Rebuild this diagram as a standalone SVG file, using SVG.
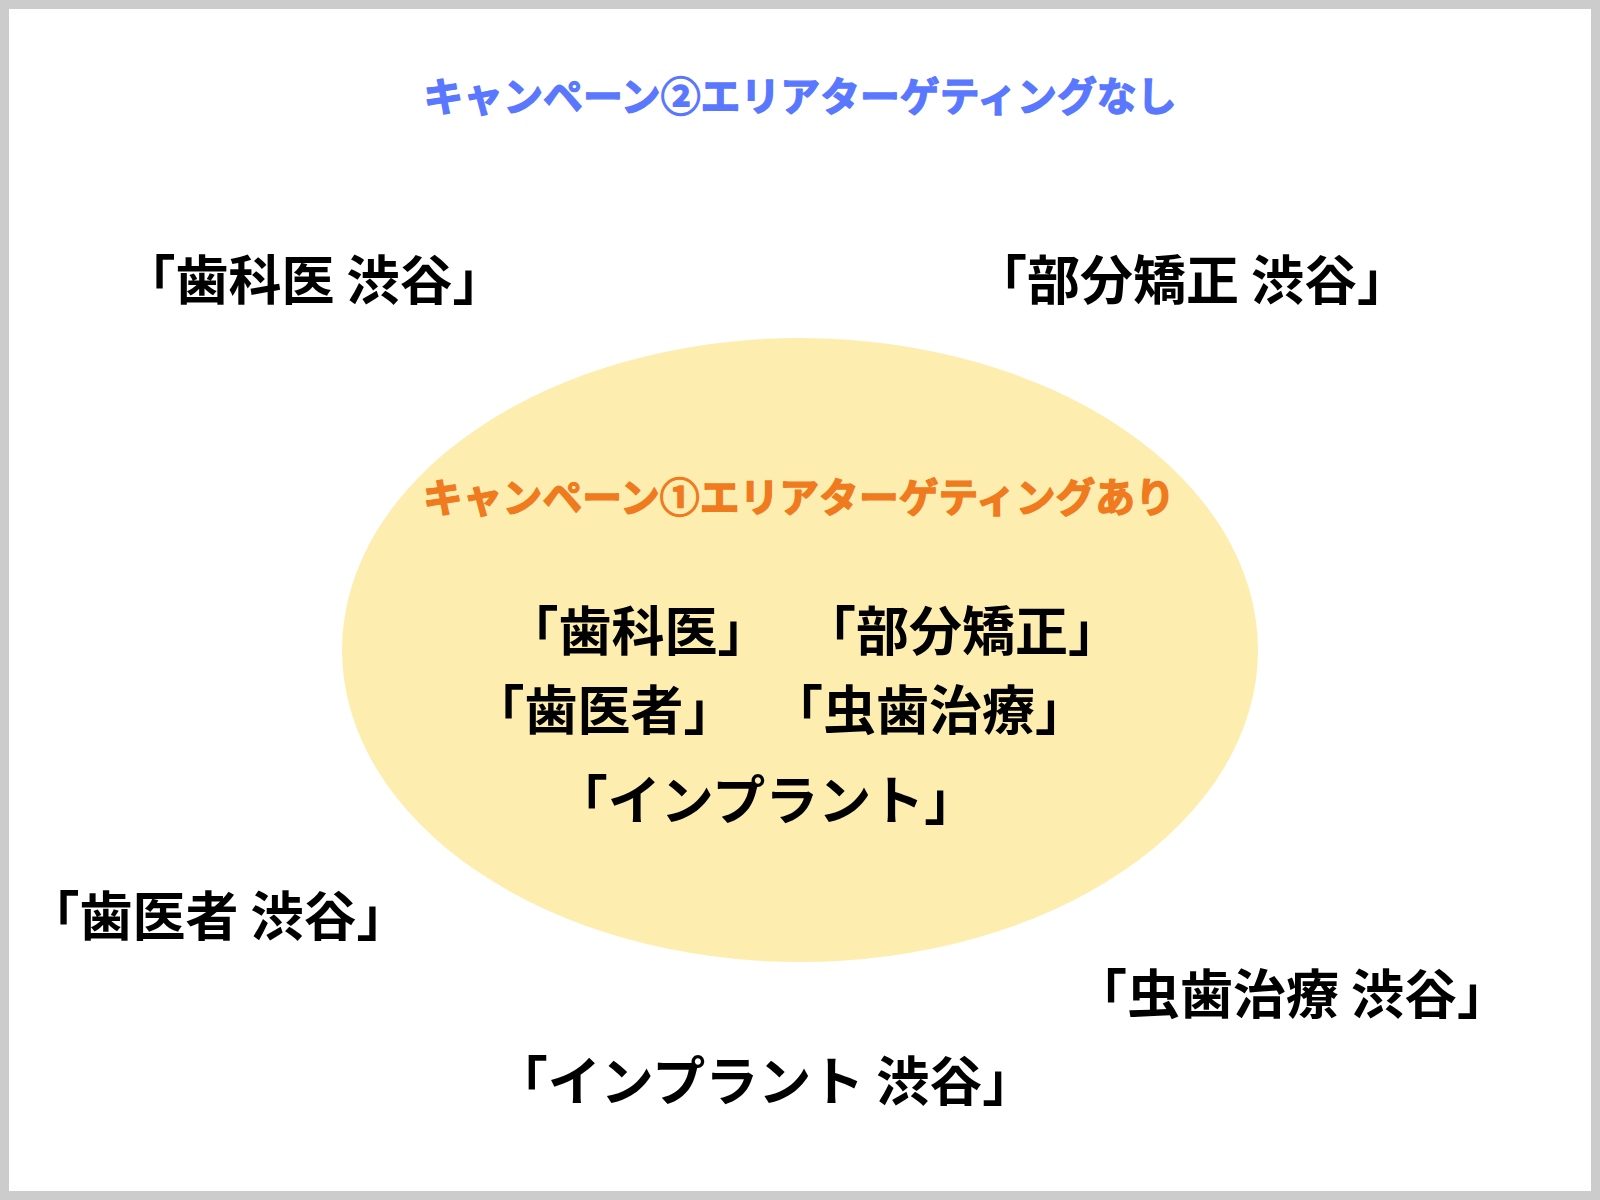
<svg xmlns="http://www.w3.org/2000/svg" width="1600" height="1200" viewBox="0 0 1600 1200">
<style>
text{font-family:"Noto Sans CJK JP","Noto Sans CJK SC",sans-serif;font-weight:700;text-anchor:middle}
.kw{font-size:53px;fill:#000000}
.t2{font-size:40px;fill:#5a78ff;stroke:#5a78ff;stroke-width:1.4;stroke-linejoin:round}
.t1{font-size:40px;fill:#f07a1e;stroke:#f07a1e;stroke-width:1.4;stroke-linejoin:round}
</style>
<rect x="0" y="0" width="1600" height="1200" fill="#cccccc"/>
<rect x="9" y="9" width="1582" height="1182" fill="#ffffff"/>
<g id="campaign2-title"><text class="t2" x="800" y="111" textLength="753" lengthAdjust="spacingAndGlyphs">キャンペーン②エリアターゲティングなし</text></g>
<g id="area-ellipse"><ellipse cx="800" cy="650" rx="458" ry="312" fill="#fdeeb0"/></g>
<g id="campaign1-title"><text class="t1" x="799" y="512" textLength="752" lengthAdjust="spacingAndGlyphs">キャンペーン①エリアターゲティングあり</text></g>
<g id="kw-shikai"><text class="kw" x="638" y="651">「歯科医」</text></g>
<g id="kw-bubun"><text class="kw" x="962" y="651">「部分矯正」</text></g>
<g id="kw-haisha"><text class="kw" x="604" y="730">「歯医者」</text></g>
<g id="kw-mushiba"><text class="kw" x="929" y="730">「虫歯治療」</text></g>
<g id="kw-implant"><text class="kw" x="766" y="820">「インプラント」</text></g>
<g id="kw-shikai-shibuya"><text class="kw" x="314" y="300">「歯科医 渋谷」</text></g>
<g id="kw-bubun-shibuya"><text class="kw" x="1192" y="300">「部分矯正 渋谷」</text></g>
<g id="kw-haisha-shibuya"><text class="kw" x="218" y="936">「歯医者 渋谷」</text></g>
<g id="kw-mushiba-shibuya"><text class="kw" x="1292" y="1014">「虫歯治療 渋谷」</text></g>
<g id="kw-implant-shibuya"><text class="kw" x="765" y="1101">「インプラント 渋谷」</text></g>
<g id="connectors"></g>
</svg>
